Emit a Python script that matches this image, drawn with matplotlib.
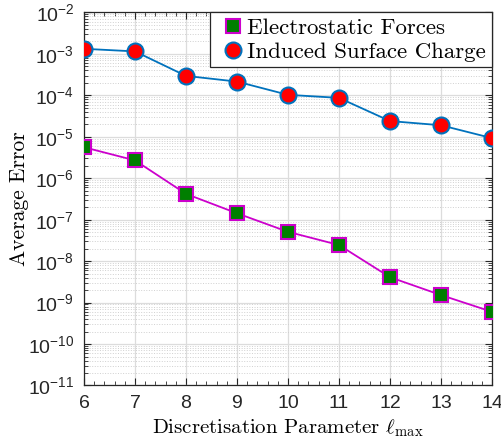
import numpy as np
import matplotlib
matplotlib.use("Agg")
import matplotlib.pyplot as plt
from matplotlib.lines import Line2D
from matplotlib.ticker import LogLocator, MultipleLocator, NullFormatter

plt.rcParams['mathtext.fontset'] = 'cm'
plt.rcParams['axes.unicode_minus'] = False

# data
lmax = [6, 7, 8, 9, 10, 11, 12, 13, 14]
err_forces = [5.6e-6, 2.7e-6, 4.2e-7, 1.43e-7, 5.1e-8, 2.45e-8, 4.1e-9, 1.52e-9, 6.0e-10]
err_charge = [1.33e-3, 1.15e-3, 2.95e-4, 2.15e-4, 1.03e-4, 8.7e-5, 2.4e-5, 1.9e-5, 9.3e-6]
labels = ['Electrostatic Forces', 'Induced Surface Charge']

serif = 'cmr10'
sans = 'Liberation Sans'

sq_style = dict(marker='s', markerfacecolor='#007F00', markeredgecolor='#CC00CC',
                markeredgewidth=1.5, markersize=10)
ci_style = dict(marker='o', markerfacecolor='#FF0000', markeredgecolor='#0072BD',
                markeredgewidth=1.5, markersize=11.5)

fig = plt.figure(figsize=(5.02, 4.41), dpi=100)
ax = fig.add_axes([0.1673, 0.1259, 0.8127, 0.8458])

ax.semilogy(lmax, err_forces, color='#CC00CC', lw=1.3, zorder=3, **sq_style)
ax.semilogy(lmax, err_charge, color='#0072BD', lw=1.3, zorder=3, **ci_style)

ax.set_xlim(6, 14)
ax.set_ylim(1e-11, 1e-2)
ax.xaxis.set_major_locator(MultipleLocator(1))
ax.xaxis.set_minor_locator(MultipleLocator(0.2))
ax.yaxis.set_major_locator(LogLocator(base=10, numticks=20))
ax.yaxis.set_minor_locator(LogLocator(base=10, subs=np.arange(2, 10), numticks=20))
ax.yaxis.set_minor_formatter(NullFormatter())

ax.grid(which='major', color='#DCDCDC', lw=0.9, ls='-')
ax.grid(which='minor', axis='y', color='#D0D0D0', lw=0.7, ls=':')
ax.set_axisbelow(True)

ax.tick_params(which='both', direction='in', top=True, right=True, color='#262626')
ax.tick_params(which='major', length=5, labelsize=14, pad=7)
ax.tick_params(which='minor', length=3)
for lbl in ax.get_xticklabels() + ax.get_yticklabels():
    lbl.set_family(sans)
    lbl.set_color('#262626')
for s in ax.spines.values():
    s.set_color('#262626')
    s.set_linewidth(0.9)

ax.set_xlabel(r'Discretisation Parameter $\ell_{\max}$', family=serif, fontsize=15, labelpad=4)
ax.set_ylabel('Average Error', family=serif, fontsize=15.5, labelpad=-1)

handles = [Line2D([], [], ls='none', **sq_style), Line2D([], [], ls='none', **ci_style)]
leg = ax.legend(handles, labels, loc='upper right', prop={'family': serif, 'size': 16.5},
                borderaxespad=0, handlelength=1.5, handletextpad=-0.1,
                borderpad=0.25, labelspacing=0.15, fancybox=False,
                edgecolor='#262626', framealpha=1)
leg.get_frame().set_linewidth(0.9)

fig.savefig('out.png', dpi=100)
